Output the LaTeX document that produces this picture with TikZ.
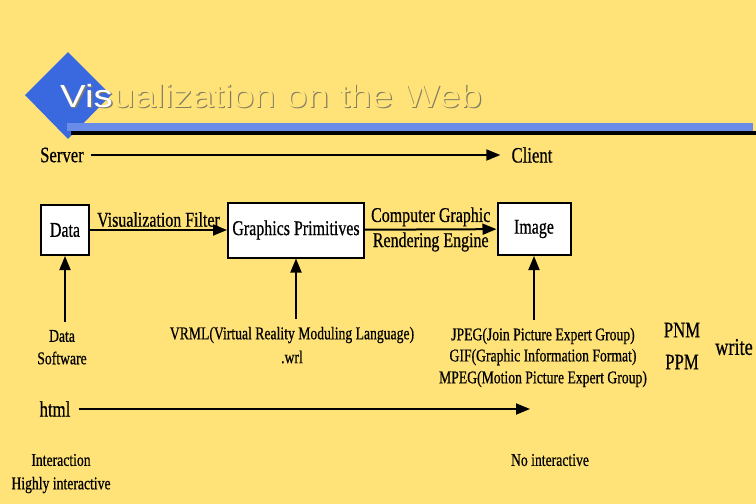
\documentclass[tikz,border=0pt]{standalone}
\usepackage{fontspec}
\setmainfont{Liberation Serif}[FakeStretch=0.76,FakeBold=0.6]
\newfontfamily\titlefont{Liberation Sans}[FakeStretch=1.2]
\usetikzlibrary{arrows.meta}
\definecolor{slideyellow}{RGB}{255,227,120}
\definecolor{paleyellow}{RGB}{255,244,190}
\definecolor{shadegray}{RGB}{130,125,100}
\definecolor{royalblue}{RGB}{58,104,222}
\definecolor{barblue}{RGB}{104,140,232}

\begin{document}
\begin{tikzpicture}
  [x=1pt,y=-1pt,
    every node/.style={font=\fontsize{18}{21}\selectfont,inner sep=2pt},
    box/.style={draw,line width=2pt,fill=white,font=\fontsize{21}{25}\selectfont},
    big/.style={font=\fontsize{22}{26}\selectfont},
    ttl/.style={font=\titlefont\fontsize{32}{36}\selectfont,inner sep=0pt,anchor=base west},
    arr/.style={line width=2pt,-{Triangle[length=14pt,width=11pt]}}]
  \fill[slideyellow] (0,0) rectangle (756,504);
  \useasboundingbox (0,0) rectangle (756,504);
  \fill[royalblue] (25,95) -- (68,52) -- (111,95) -- (68,139) -- cycle;
  \fill[barblue] (67,123) rectangle (753,131);
  \fill[black] (71,131) rectangle (756,135);
  \node[ttl,text=shadegray] (t1) at (61.5,108.5) {Visualization on the Web};
  \node[ttl,text=white] (t2) at (60,107) {Vis};
  \node[ttl,text=slideyellow] (t3) at (t2.base east) {ualization on the Web};
  \node[big] (s0) at (62,155) {Server};
  \node[big] (s1) at (532,155) {Client};
  \node[box,minimum width=48pt,minimum height=50pt] (n1) at (65,230) {Data};
  \node[box,minimum width=136pt,minimum height=55pt] (n2) at (296,230) {Graphics Primitives};
  \node[box,minimum width=73pt,minimum height=52pt] (n3) at (534,229) {Image};
  \node (d1) at (62,336) {Data};
  \node (d2) at (62,358) {Software};
  \node (v1) at (292,335) {VRML(Virtual Reality Moduling Language)};
  \node (v2) at (292,357) {.wrl};
  \node (j1) at (543,336) {JPEG(Join Picture Expert Group)};
  \node (j2) at (543,357) {GIF(Graphic Information Format)};
  \node (j3) at (543,379) {MPEG(Motion Picture Expert Group)};
  \node[big] (p1) at (682,330) {PNM};
  \node[big] (p2) at (682,362) {PPM};
  \node[font=\fontsize{24}{28}\selectfont] (w1) at (734,347) {write};
  \node[big] (h0) at (55,409) {html};
  \coordinate (h1) at (530,409);
  \node (i1) at (61,460) {Interaction};
  \node (i2) at (61,485) {Highly interactive};
  \node (i3) at (550,460) {No interactive};
  \draw[arr,line width=1.8pt,shorten <=5pt,shorten >=9pt] (s0) -- (s1);
  \draw[arr] (n1) -- node[above,font=\fontsize{21}{25}\selectfont] (l1) {Visualization Filter} (n2);
  \draw[arr] (n2) -- node[above,font=\fontsize{21}{25}\selectfont] (l2) {Computer Graphic}
    node[below,font=\fontsize{21}{25}\selectfont] (l3) {Rendering Engine} (n3);
  \foreach \from/\to in {d1/n1,v1/n2,j1/n3}
    \draw[arr,line width=1.8pt,shorten <=6pt] (\to.south |- \from.north) -- (\to.south);
  \draw[arr,line width=1.8pt,shorten <=6pt] (h0) -- (h1);
\end{tikzpicture}
\end{document}
